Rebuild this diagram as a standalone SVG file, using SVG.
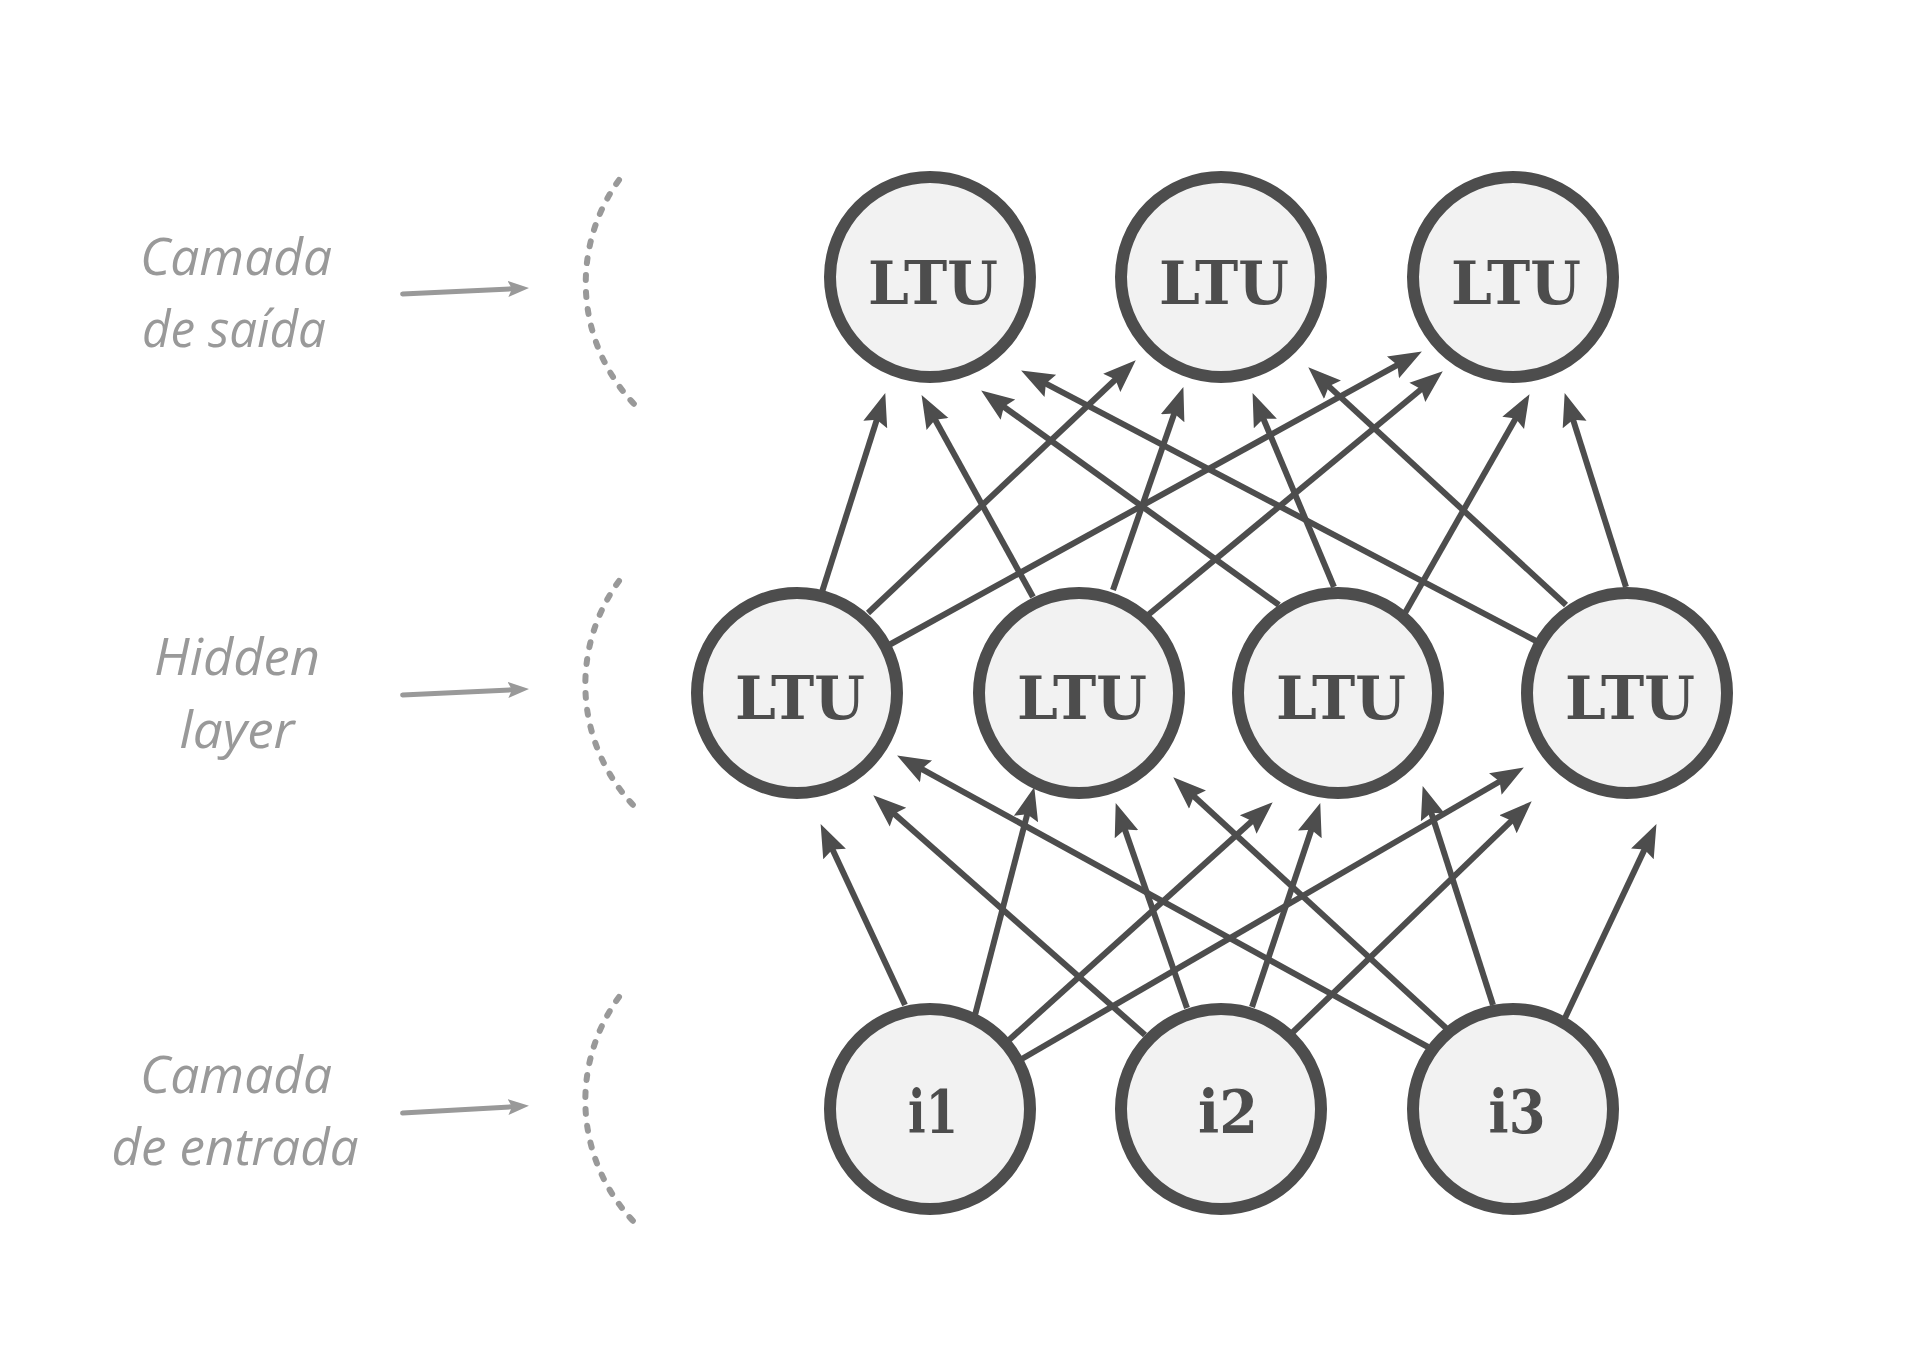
<svg xmlns="http://www.w3.org/2000/svg" width="1907" height="1369" viewBox="0 0 1907 1369">
<style>
.node circle{fill:#f2f2f2;stroke:#4d4d4d;stroke-width:12}
.node text{font-family:"DejaVu Serif","Liberation Serif",serif;font-weight:bold;font-size:60px;fill:#4d4d4d;text-anchor:middle}
.edge{stroke:#4d4d4d;stroke-width:6;fill:none;marker-end:url(#ah)}
.lbl{font-family:"Open Sans","Noto Sans",sans-serif;font-style:italic;font-weight:400;font-size:52px;fill:#999;text-anchor:middle}
.garrow{stroke:#999;stroke-width:5;stroke-linecap:round;fill:none;marker-end:url(#gah)}
.brace{stroke:#999;stroke-width:6;stroke-linecap:round;fill:none;stroke-dasharray:5 12}
</style>
<defs>
<marker id="ah" markerUnits="userSpaceOnUse" markerWidth="36" markerHeight="28" viewBox="0 -14 36 28" refX="12" refY="0" orient="auto"><path d="M33,0 L0,-12.5 L5,0 L0,12.5 z" fill="#4d4d4d"/></marker>
<marker id="gah" markerUnits="userSpaceOnUse" markerWidth="22" markerHeight="18" viewBox="0 -9 22 18" refX="8" refY="0" orient="auto"><path d="M21,0 L0,-8 L4,0 L0,8 z" fill="#999"/></marker>
</defs>
<rect width="1907" height="1369" fill="#fff"/>
<g id="layer-labels">
<text class="lbl" x="236" y="275" textLength="192" lengthAdjust="spacingAndGlyphs">Camada</text>
<text class="lbl" x="234" y="347" textLength="184" lengthAdjust="spacingAndGlyphs">de saída</text>
<text class="lbl" x="237" y="675" textLength="166" lengthAdjust="spacingAndGlyphs">Hidden</text>
<text class="lbl" x="237" y="748" textLength="115" lengthAdjust="spacingAndGlyphs">layer</text>
<text class="lbl" x="236" y="1093" textLength="192" lengthAdjust="spacingAndGlyphs">Camada</text>
<text class="lbl" x="235" y="1165" textLength="247" lengthAdjust="spacingAndGlyphs">de entrada</text>
<path class="garrow" d="M402.6,294 L516,288.6"/>
<path class="garrow" d="M402.6,695 L516,689.6"/>
<path class="garrow" d="M402.6,1113 L516,1106.6"/>
<path class="brace" d="M619,180 A176,176 0 0,0 640,410"/>
<path class="brace" d="M619,581 A176,176 0 0,0 640,812"/>
<path class="brace" d="M619,997 A176,176 0 0,0 640,1228"/>
</g>
<g id="connectors">
<path class="edge" d="M822,592 L878.9,413.1"/>
<path class="edge" d="M1033,597 L931.7,413.5"/>
<path class="edge" d="M1279,605 L998.2,402.7"/>
<path class="edge" d="M1538,642 L1039.7,380.3"/>
<path class="edge" d="M868,613 L1120.5,374.7"/>
<path class="edge" d="M1113,590 L1176.5,406.9"/>
<path class="edge" d="M1334,587 L1260.7,412.4"/>
<path class="edge" d="M1566,605 L1323.7,381.6"/>
<path class="edge" d="M889,645 L1403.5,361.6"/>
<path class="edge" d="M1148,615 L1426.6,384.7"/>
<path class="edge" d="M1405,613 L1519.1,412.4"/>
<path class="edge" d="M1626,587 L1571,413.1"/>
<path class="edge" d="M905,1005 L829.5,843.1"/>
<path class="edge" d="M1145,1035 L889,809.2"/>
<path class="edge" d="M1428,1047 L915.5,765.6"/>
<path class="edge" d="M975,1015 L1029,807.4"/>
<path class="edge" d="M1187,1008 L1122.6,822.9"/>
<path class="edge" d="M1446,1028 L1188.7,791.5"/>
<path class="edge" d="M1009,1040 L1257.1,816.4"/>
<path class="edge" d="M1252,1007 L1313.6,823"/>
<path class="edge" d="M1493,1005 L1429.1,806"/>
<path class="edge" d="M1020,1060 L1505.7,778"/>
<path class="edge" d="M1292,1033 L1516.6,815.9"/>
<path class="edge" d="M1565,1018 L1647.5,843.1"/>
</g>
<g id="o1" class="node"><circle cx="930" cy="277" r="100"/><text x="933" y="304" textLength="130" lengthAdjust="spacingAndGlyphs">LTU</text></g>
<g id="o2" class="node"><circle cx="1221" cy="277" r="100"/><text x="1224" y="304" textLength="130" lengthAdjust="spacingAndGlyphs">LTU</text></g>
<g id="o3" class="node"><circle cx="1513" cy="277" r="100"/><text x="1516" y="304" textLength="130" lengthAdjust="spacingAndGlyphs">LTU</text></g>
<g id="h1" class="node"><circle cx="797" cy="693" r="100"/><text x="800" y="719" textLength="130" lengthAdjust="spacingAndGlyphs">LTU</text></g>
<g id="h2" class="node"><circle cx="1079" cy="693" r="100"/><text x="1082" y="719" textLength="130" lengthAdjust="spacingAndGlyphs">LTU</text></g>
<g id="h3" class="node"><circle cx="1338" cy="693" r="100"/><text x="1341" y="719" textLength="130" lengthAdjust="spacingAndGlyphs">LTU</text></g>
<g id="h4" class="node"><circle cx="1627" cy="693" r="100"/><text x="1630" y="719" textLength="130" lengthAdjust="spacingAndGlyphs">LTU</text></g>
<g id="i1" class="node"><circle cx="930" cy="1109" r="100"/><text x="933" y="1133" textLength="50" lengthAdjust="spacingAndGlyphs">i1</text></g>
<g id="i2" class="node"><circle cx="1221" cy="1109" r="100"/><text x="1228" y="1133" textLength="60" lengthAdjust="spacingAndGlyphs">i2</text></g>
<g id="i3" class="node"><circle cx="1513" cy="1109" r="100"/><text x="1517" y="1133" textLength="57" lengthAdjust="spacingAndGlyphs">i3</text></g>
</svg>
